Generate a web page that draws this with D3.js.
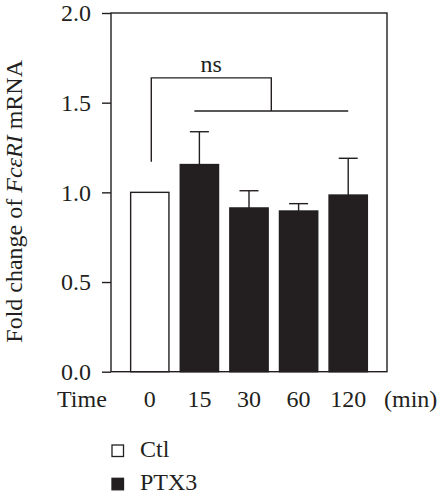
<!DOCTYPE html>
<html>
<head>
<meta charset="utf-8">
<script src="https://cdn.jsdelivr.net/npm/d3@7"></script>
<style>
  html, body { margin: 0; padding: 0; background: #fff; }
  svg { display: block; font-family: "Liberation Serif", "Times New Roman", serif; }
</style>
</head>
<body>
<div id="chart"></div>
<script>
// Data
const times = ['0', '15', '30', '60', '120'];
const groups = ['Ctl', 'PTX3', 'PTX3', 'PTX3', 'PTX3'];
const means = [1.0, 1.155, 0.913, 0.896, 0.985];
const errUpper = [null, 1.338, 1.009, 0.937, 1.19];
const yTicks = [0, 0.5, 1.0, 1.5, 2.0];
const legendItems = ['Ctl', 'PTX3'];

const W = 445, H = 500;
const ink = '#231f20';
const fs = 24;
const serif = '"Liberation Serif", "Times New Roman", serif';

const svg = d3.select('#chart').append('svg')
  .attr('width', W)
  .attr('height', H);

// Scales
const plot = { left: 111, right: 387, top: 13, bottom: 371.7 };
const x = d3.scaleBand()
  .domain(times)
  .range([plot.left, plot.right])
  .paddingInner(0.228)
  .paddingOuter(0.396);
const y = d3.scaleLinear()
  .domain([0, 2])
  .range([plot.bottom, plot.top]);
const xc = t => x(t) + x.bandwidth() / 2;

// Frame (top, right, bottom, left)
svg.append('rect')
  .attr('x', plot.left)
  .attr('y', plot.top)
  .attr('width', plot.right - plot.left)
  .attr('height', plot.bottom - plot.top)
  .attr('fill', 'none')
  .attr('stroke', ink)
  .attr('stroke-width', 1.4);

// Y axis
const yAxis = svg.append('g')
  .attr('transform', `translate(${plot.left},0)`)
  .call(d3.axisLeft(y).tickValues(yTicks).tickFormat(d3.format('.1f'))
    .tickSize(9).tickSizeOuter(0).tickPadding(11));
yAxis.select('.domain').remove();
yAxis.selectAll('line').attr('stroke', ink).attr('stroke-width', 1.4);
yAxis.selectAll('text')
  .attr('fill', ink)
  .attr('font-size', fs)
  .attr('font-family', serif);

// X axis labels
const xAxis = svg.append('g')
  .attr('transform', `translate(0,${plot.bottom})`)
  .call(d3.axisBottom(x).tickSize(0).tickPadding(18));
xAxis.select('.domain').remove();
xAxis.selectAll('text')
  .attr('fill', ink)
  .attr('font-size', fs)
  .attr('font-family', serif);

svg.append('text')
  .attr('x', 57).attr('y', 406.7)
  .attr('font-size', fs).attr('fill', ink)
  .text('Time');
svg.append('text')
  .attr('x', 384).attr('y', 406.7)
  .attr('font-size', fs).attr('fill', ink)
  .text('(min)');

// Y axis title
const yTitle = svg.append('text')
  .attr('transform', `translate(22,${(plot.top + plot.bottom) / 2 + 9}) rotate(-90)`)
  .attr('text-anchor', 'middle')
  .attr('font-size', fs)
  .attr('fill', ink);
yTitle.append('tspan').text('Fold change of ');
yTitle.append('tspan').attr('font-style', 'italic').text('FcεRI');
yTitle.append('tspan').text(' mRNA');

// Error bars (upper only)
const errData = times.map((t, i) => ({ t, m: means[i], e: errUpper[i] })).filter(d => d.e != null);
const capW = 19;
svg.append('g').selectAll('line.stem')
  .data(errData)
  .join('line')
  .attr('x1', d => xc(d.t)).attr('x2', d => xc(d.t))
  .attr('y1', d => y(d.m)).attr('y2', d => y(d.e))
  .attr('stroke', ink).attr('stroke-width', 1.4);
svg.append('g').selectAll('line.cap')
  .data(errData)
  .join('line')
  .attr('x1', d => xc(d.t) - capW / 2).attr('x2', d => xc(d.t) + capW / 2)
  .attr('y1', d => y(d.e)).attr('y2', d => y(d.e))
  .attr('stroke', ink).attr('stroke-width', 1.4);

// Bars
svg.append('g').selectAll('rect')
  .data(times.map((t, i) => ({ t, v: means[i], g: groups[i] })))
  .join('rect')
  .attr('x', d => x(d.t))
  .attr('y', d => y(d.v))
  .attr('width', x.bandwidth())
  .attr('height', d => y(0) - y(d.v))
  .attr('fill', d => d.g === 'Ctl' ? '#fff' : ink)
  .attr('stroke', ink)
  .attr('stroke-width', 1.4);

// Significance bracket
const brTop = 1.638, brLow = 1.454, brLeftEnd = 1.17;
const lowLeft = xc('15') - 5, lowRight = xc('120');
const midX = (lowLeft + lowRight) / 2;
const leftX = xc('0') + 1.5;
svg.append('path')
  .attr('d', `M${leftX},${y(brLeftEnd)}V${y(brTop)}H${midX}V${y(brLow)}`)
  .attr('fill', 'none')
  .attr('stroke', ink)
  .attr('stroke-width', 1.4);
svg.append('line')
  .attr('x1', lowLeft).attr('x2', lowRight)
  .attr('y1', y(brLow)).attr('y2', y(brLow))
  .attr('stroke', ink).attr('stroke-width', 1.4);
svg.append('text')
  .attr('x', (leftX + midX) / 2)
  .attr('y', 71.7)
  .attr('text-anchor', 'middle')
  .attr('font-size', fs)
  .attr('fill', ink)
  .text('ns');

// Legend
const legend = svg.append('g').attr('transform', 'translate(112,445)');
legendItems.forEach((name, i) => {
  const gy = i * 33.3;
  legend.append('rect')
    .attr('x', 0).attr('y', gy)
    .attr('width', 11.5).attr('height', 11.5)
    .attr('fill', name === 'Ctl' ? '#fff' : ink)
    .attr('stroke', ink)
    .attr('stroke-width', 1.3);
  legend.append('text')
    .attr('x', 28).attr('y', gy + 12)
    .attr('font-size', fs)
    .attr('fill', ink)
    .text(name);
});
</script>
</body>
</html>
